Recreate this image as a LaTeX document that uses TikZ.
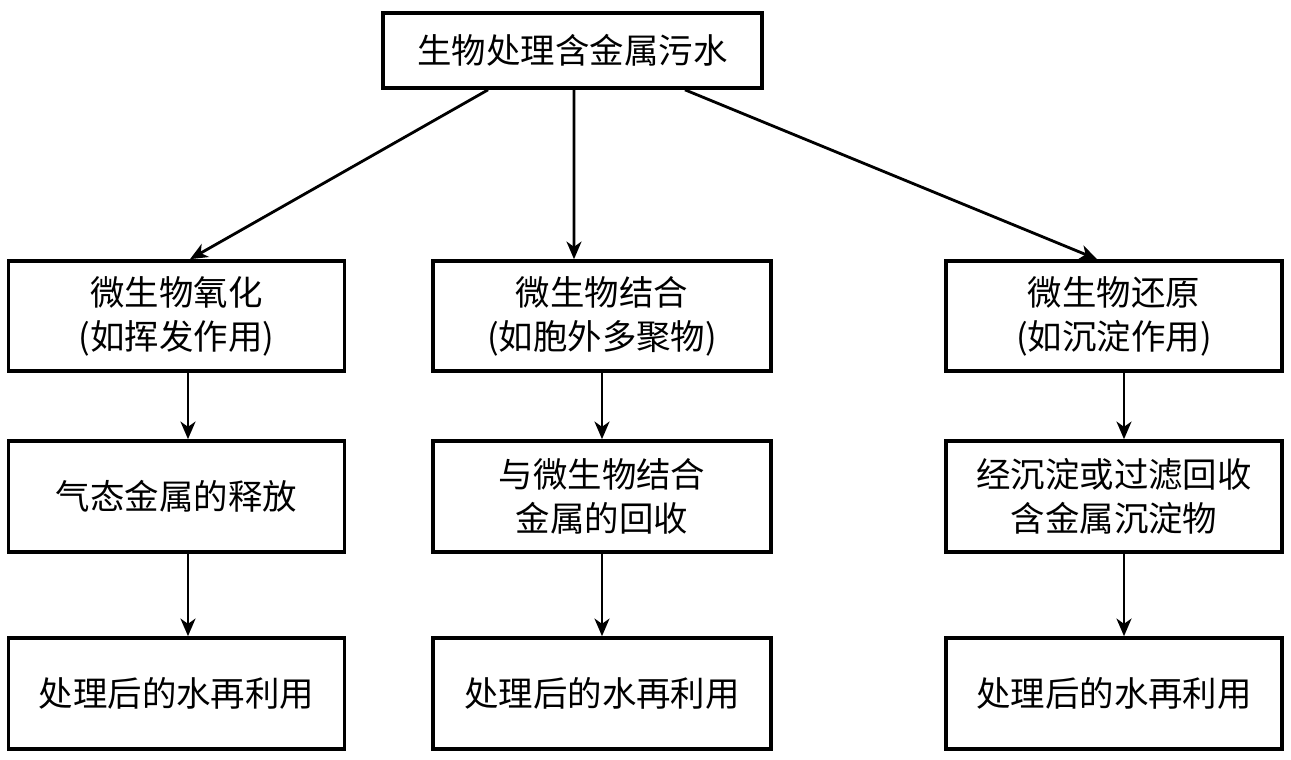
\documentclass[tikz,border=0pt]{standalone}
\usepackage{fontspec}
\setmainfont{Liberation Serif}
\newfontfamily\cjk{Noto Sans CJK SC}
\usepackage{tikz}
\usetikzlibrary{arrows.meta}
\usetikzlibrary{positioning}
\tikzset{
  procbox/.style={draw, line width=2.1pt, fill=white, align=center,
    minimum width=6.72cm, minimum height=2.2cm, inner sep=2pt,
    font=\cjk\fontsize{19.6pt}{25pt}\selectfont},
  flow/.style={-{Stealth[length=10pt,width=8.5pt,inset=3pt]}, line width=1.6pt}
}

\begin{document}
\begin{tikzpicture}[x=0.02cm, y=-0.02cm]
            \useasboundingbox (0,0) rectangle (1291,760);
            % top
            \node[procbox, minimum width=7.58cm, minimum height=1.5cm] (top) at (572.5, 50.5) {生物处理含金属污水};
            % second row
            \node[procbox] (oxid) at (176.5, 316) {微生物氧化\\(如挥发作用)};
            \node[procbox, minimum width=6.76cm] (bind) at (602, 316) {微生物结合\\(如胞外多聚物)};
            \node[procbox] (redu) at (1114, 316) {微生物还原\\(如沉淀作用)};
            % third row
            \node[procbox, minimum height=2.22cm] (gas) at (176.5, 496.5) {气态金属的释放};
            \node[procbox, minimum width=6.76cm, minimum height=2.22cm] (recov) at (602, 496.5) {与微生物结合\\金属的回收};
            \node[procbox, minimum height=2.22cm] (prec) at (1114, 496.5) {经沉淀或过滤回收\\含金属沉淀物};
            % last row
            \node[procbox, minimum height=2.22cm] (reuseA) at (176.5, 693.5) {处理后的水再利用};
            \node[procbox, minimum width=6.76cm, minimum height=2.22cm] (reuseB) at (602, 693.5) {处理后的水再利用};
            \node[procbox, minimum height=2.22cm] (reuseC) at (1114, 693.5) {处理后的水再利用};
            % arrows
            \draw[flow] ([xshift=-1.69cm]top.south) -- ([xshift=0.27cm]oxid.north);
            \draw[flow] ([xshift=0.03cm]top.south) -- ([xshift=-0.56cm]bind.north);
            \draw[flow] ([xshift=2.25cm]top.south) -- ([xshift=-0.34cm]redu.north);
            \draw[flow] ([xshift=0.23cm]oxid.south) -- ([xshift=0.23cm]gas.north);
            \draw[flow] ([xshift=0.23cm]gas.south) -- ([xshift=0.23cm]reuseA.north);
            \draw[flow] (bind) -- (recov);
            \draw[flow] (recov) -- (reuseB);
            \draw[flow] ([xshift=0.2cm]redu.south) -- ([xshift=0.2cm]prec.north);
            \draw[flow] ([xshift=0.2cm]prec.south) -- ([xshift=0.2cm]reuseC.north);
        \end{tikzpicture}
\end{document}
